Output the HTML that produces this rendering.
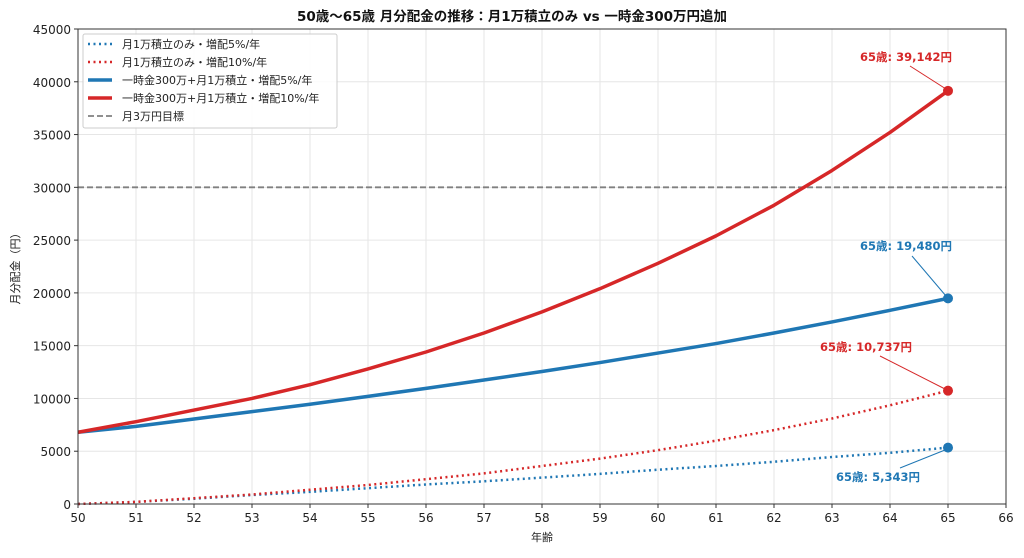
<!DOCTYPE html>
<html><head><meta charset="utf-8"><style>
body{margin:0;background:#fff;}
svg text{font-family:"DejaVu Sans","Noto Sans CJK JP",sans-serif;}
</style></head><body>
<svg id="s" width="1024" height="553" xmlns="http://www.w3.org/2000/svg">
<rect width="1024" height="553" fill="#fff"/>
<g id="grid"></g>
<g id="ser"></g>
<rect x="78" y="29" width="928" height="475" fill="none" stroke="#333" stroke-width="1"/>
<g id="ticks" font-size="12" fill="#222"></g>
<text x="512" y="21" text-anchor="middle" font-size="13.5" font-weight="bold" fill="#111">50歳～65歳 月分配金の推移：月1万積立のみ vs 一時金300万円追加</text>
<text x="542" y="541" text-anchor="middle" font-size="11" fill="#222">年齢</text>
<text x="19" y="266" text-anchor="middle" font-size="11" fill="#222" transform="rotate(-90 19 266)">月分配金（円）</text>
<g font-size="11" fill="#222">
<rect x="83" y="34" width="254" height="94" fill="#fff" fill-opacity="0.85" stroke="#ccc" rx="2"/>
<line x1="88" y1="44" x2="112" y2="44" stroke="#1f77b4" stroke-width="2.5" stroke-dasharray="2,3.5"/>
<text x="122" y="48">月1万積立のみ・増配5%/年</text>
<line x1="88" y1="62" x2="112" y2="62" stroke="#d62728" stroke-width="2.5" stroke-dasharray="2,3.5"/>
<text x="122" y="66">月1万積立のみ・増配10%/年</text>
<line x1="88" y1="80" x2="112" y2="80" stroke="#1f77b4" stroke-width="3.5"/>
<text x="122" y="84">一時金300万+月1万積立・増配5%/年</text>
<line x1="88" y1="98" x2="112" y2="98" stroke="#d62728" stroke-width="3.5"/>
<text x="122" y="102">一時金300万+月1万積立・増配10%/年</text>
<line x1="88" y1="116" x2="112" y2="116" stroke="#808080" stroke-width="1.8" stroke-dasharray="6,3"/>
<text x="122" y="120">月3万円目標</text>
</g>
<g font-size="11.5" font-weight="bold">
<text x="906" y="61" text-anchor="middle" fill="#d62728">65歳: 39,142円</text>
<line x1="910" y1="66" x2="946" y2="89" stroke="#d62728" stroke-width="1"/>
<text x="906" y="250" text-anchor="middle" fill="#1f77b4">65歳: 19,480円</text>
<line x1="912" y1="256" x2="946" y2="296" stroke="#1f77b4" stroke-width="1"/>
<text x="866" y="351" text-anchor="middle" fill="#d62728">65歳: 10,737円</text>
<line x1="880" y1="356" x2="945" y2="389" stroke="#d62728" stroke-width="1"/>
<text x="878" y="481" text-anchor="middle" fill="#1f77b4">65歳: 5,343円</text>
<line x1="900" y1="468" x2="945" y2="450" stroke="#1f77b4" stroke-width="1"/>
</g>
</svg>
<script>
const X=a=>78+(a-50)*58, Y=v=>504-v*475/45000, NS="http://www.w3.org/2000/svg";
function el(p,t,at){const e=document.createElementNS(NS,t);for(const k in at)e.setAttribute(k,at[k]);p.appendChild(e);return e;}
const g=document.getElementById('grid'),tk=document.getElementById('ticks'),s=document.getElementById('ser');
for(let a=50;a<=66;a++){el(g,'line',{x1:X(a),x2:X(a),y1:29,y2:504,stroke:'#e6e6e6','stroke-width':1});
 el(tk,'line',{x1:X(a),x2:X(a),y1:504,y2:508,stroke:'#333'});
 const t=el(tk,'text',{x:X(a),y:522,'text-anchor':'middle'});t.textContent=a;}
for(let v=0;v<=45000;v+=5000){el(g,'line',{x1:78,x2:1006,y1:Y(v),y2:Y(v),stroke:'#e6e6e6','stroke-width':1});
 el(tk,'line',{x1:74,x2:78,y1:Y(v),y2:Y(v),stroke:'#333'});
 const t=el(tk,'text',{x:71,y:Y(v)+5,'text-anchor':'end'});t.textContent=v;}
el(s,'line',{x1:78,x2:1006,y1:Y(30000),y2:Y(30000),stroke:'#808080','stroke-width':1.8,'stroke-dasharray':'6,3'});
const D=[
 [[0,200,500,850,1150,1500,1850,2150,2500,2850,3250,3600,4000,4450,4850,5343],'#1f77b4',true],
 [[0,200,550,900,1350,1800,2350,2900,3600,4300,5100,6000,7000,8100,9350,10737],'#d62728',true],
 [[6800,7350,8050,8750,9450,10200,10950,11750,12550,13400,14300,15200,16200,17250,18350,19480],'#1f77b4',false],
 [[6800,7800,8900,10000,11300,12800,14400,16200,18200,20400,22800,25400,28300,31600,35200,39142],'#d62728',false]];
for(const [d,c,dot] of D){
 const pts=d.map((v,i)=>X(50+i)+','+Y(v)).join(' ');
 el(s,'polyline',{points:pts,fill:'none',stroke:c,'stroke-width':dot?2.5:3.5,'stroke-dasharray':dot?'2,3.5':'none','stroke-linejoin':'round'});
 el(s,'circle',{cx:X(65),cy:Y(d[15]),r:5,fill:c});
}
</script>
</body></html>
